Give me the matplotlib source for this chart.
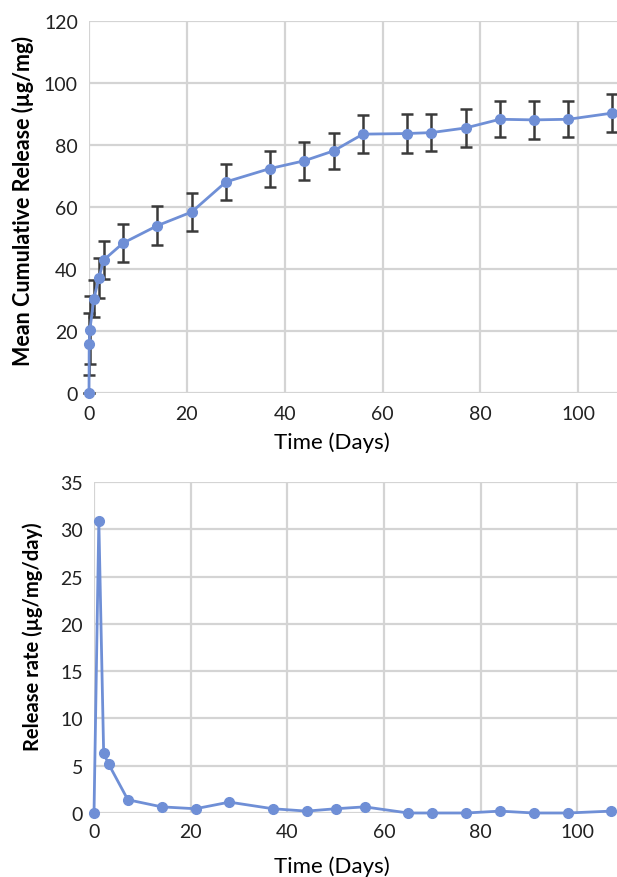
import matplotlib
matplotlib.use("Agg")
import matplotlib.pyplot as plt

plt.rcParams['font.family'] = ['Lato', 'DejaVu Sans']

# cumulative release (top panel)
days_cum = [0, 0.04, 0.17, 1, 2, 3, 7, 14, 21, 28, 37, 44, 50, 56, 65, 70, 77, 84, 91, 98, 107]
cum_release = [0, 15.8, 20.3, 30.4, 37.0, 42.9, 48.4, 54.0, 58.4, 68.1, 72.4, 74.9, 78.1, 83.5,
               83.7, 84.0, 85.5, 88.3, 88.1, 88.3, 90.3]
cum_err = [0, 10, 11, 6, 6.5, 6.1, 6.1, 6.3, 6.0, 5.8, 5.8, 6.2, 5.8, 6.2,
           6.2, 5.9, 6.2, 5.8, 6.2, 5.8, 6.1]

# release rate (bottom panel)
days_rate = [0, 1, 2, 3, 7, 14, 21, 28, 37, 44, 50, 56, 65, 70, 77, 84, 91, 98, 107]
release_rate = [0, 30.9, 6.3, 5.2, 1.4, 0.65, 0.45, 1.15, 0.45, 0.2, 0.45, 0.65,
                0, 0, 0, 0.2, 0, 0, 0.2]

x_ticks = [0, 20, 40, 60, 80, 100, 120]
x_ticklabels = ['0', '20', '40', '60', '80', '100', '']  # 120 falls off the cropped edge

blue = '#6f8fd6'
grid_c = '#d4d4d4'

fig = plt.figure(figsize=(6.17, 8.78), dpi=100)

def style(ax, ymax, ystep, xpad):
    ax.set_xlim(0, 120)
    ax.set_ylim(0, ymax)
    ax.set_xticks(x_ticks)
    ax.set_xticklabels(x_ticklabels)
    ax.set_yticks(range(0, ymax + 1, ystep))
    ax.grid(True, color=grid_c, linewidth=1.6)
    ax.set_axisbelow(True)
    for s in ax.spines.values():
        s.set_visible(False)
    ax.tick_params(length=0, labelsize=14, colors='#222222')
    ax.tick_params(axis='y', pad=8)
    ax.tick_params(axis='x', pad=xpad)

ax1 = fig.add_axes([89/617, 1 - 394/878, 587/617, 372/878])
style(ax1, 120, 20, 9)
ax1.errorbar(days_cum, cum_release, yerr=cum_err, color=blue, ecolor='#3a3a3a',
             elinewidth=1.8, capsize=4, capthick=1.8, marker='o', markersize=7,
             linewidth=2, clip_on=False, zorder=3)
ax1.set_xlabel('Time (Days)', fontsize=16, va='center')
ax1.xaxis.set_label_coords(0.414, -0.132)
ax1.set_ylabel('Mean Cumulative Release (µg/mg)', fontsize=15.5, fontweight='bold', va='center')
ax1.yaxis.set_label_coords(-0.112, 0.52)

ax2 = fig.add_axes([94/617, 1 - 814/878, 580/617, 331/878])
style(ax2, 35, 5, 7)
ax2.plot(days_rate, release_rate, color=blue, marker='o', markersize=7,
         linewidth=2, clip_on=False, zorder=3)
ax2.set_xlabel('Time (Days)', fontsize=16, va='center')
ax2.xaxis.set_label_coords(0.41, -0.16)
ax2.set_ylabel('Release rate (µg/mg/day)', fontsize=14.5, fontweight='bold', va='center')
ax2.yaxis.set_label_coords(-0.105, 0.535)

fig.savefig('out.png', dpi=100)
